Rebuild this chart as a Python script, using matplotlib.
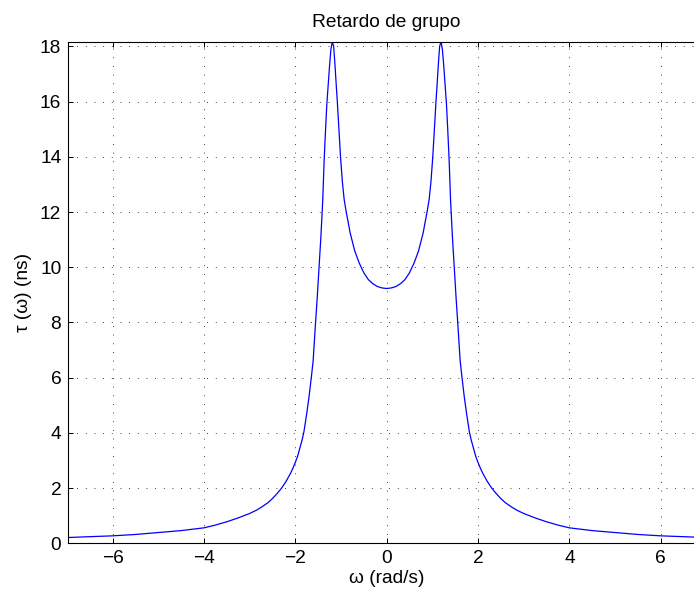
import matplotlib
matplotlib.use("Agg")
import matplotlib.pyplot as plt
import numpy as np

plt.rcParams['font.family'] = ['Liberation Sans', 'DejaVu Sans']
plt.rcParams['axes.unicode_minus'] = True

# group delay (curve is symmetric, w >= 0 half)
w_half = [0.0, 0.1, 0.2, 0.3, 0.4, 0.5, 0.6, 0.7, 0.8, 0.85, 0.89, 0.93,
          0.97, 1.01, 1.045, 1.08, 1.10, 1.13, 1.16, 1.19, 1.22, 1.25,
          1.28, 1.31, 1.34, 1.37, 1.40, 1.44, 1.48, 1.52, 1.56, 1.61,
          1.65, 1.70, 1.75, 1.81, 1.85, 1.90, 1.95, 2.0, 2.05, 2.1, 2.2,
          2.3, 2.4, 2.5, 2.6, 2.75, 2.85, 3.0, 3.25, 3.5, 3.75, 4.0, 4.5,
          5.0, 5.5, 6.0, 6.5, 6.97]
tau_half = [9.23, 9.25, 9.30, 9.40, 9.55, 9.80, 10.15, 10.6, 11.25, 11.7,
            12.05, 12.45, 13.1, 14.0, 15.0, 16.0, 16.5, 17.3, 18.0, 18.17,
            17.9, 17.3, 16.6, 15.9, 14.9, 13.8, 12.4, 11.1, 10.0, 8.9,
            7.9, 6.6, 6.0, 5.3, 4.7, 4.05, 3.75, 3.45, 3.15, 2.93, 2.73,
            2.55, 2.25, 2.0, 1.8, 1.62, 1.47, 1.3, 1.2, 1.08, 0.92, 0.78,
            0.66, 0.56, 0.46, 0.39, 0.32, 0.27, 0.24, 0.21]

w = [-v for v in w_half[::-1]] + w_half[1:]
tau = tau_half[::-1] + tau_half[1:]

xticks = [-6, -4, -2, 0, 2, 4, 6]
yticks = [0, 2, 4, 6, 8, 10, 12, 14, 16, 18]

fs = 13.8
fig = plt.figure(figsize=(6.94, 5.97), dpi=100)
ax = fig.add_axes([68.3 / 694, 53.7 / 597, 636.7 / 694, 501.6 / 597])

ax.plot(w, tau, color=(0, 0, 1), lw=0.9)
ax.set_xlim(-6.97, 6.97)
ax.set_ylim(0, 18.17)
ax.set_xticks(xticks)
ax.set_yticks(yticks)

ax.grid(True, color='black', linestyle=(0, (1, 9.4)), lw=0.6)
ax.tick_params(direction='in', length=3.6, width=0.7, top=True, right=True,
               labelsize=fs, pad=5)
for s in ax.spines.values():
    s.set_linewidth(0.8)

ax.set_title('Retardo de grupo', fontsize=fs, pad=10.5)
ax.set_xlabel('ω (rad/s)', fontsize=fs, labelpad=2)
ax.set_ylabel('τ (ω) (ns)', fontsize=fs, labelpad=6)

fig.savefig('out.png', dpi=100)
